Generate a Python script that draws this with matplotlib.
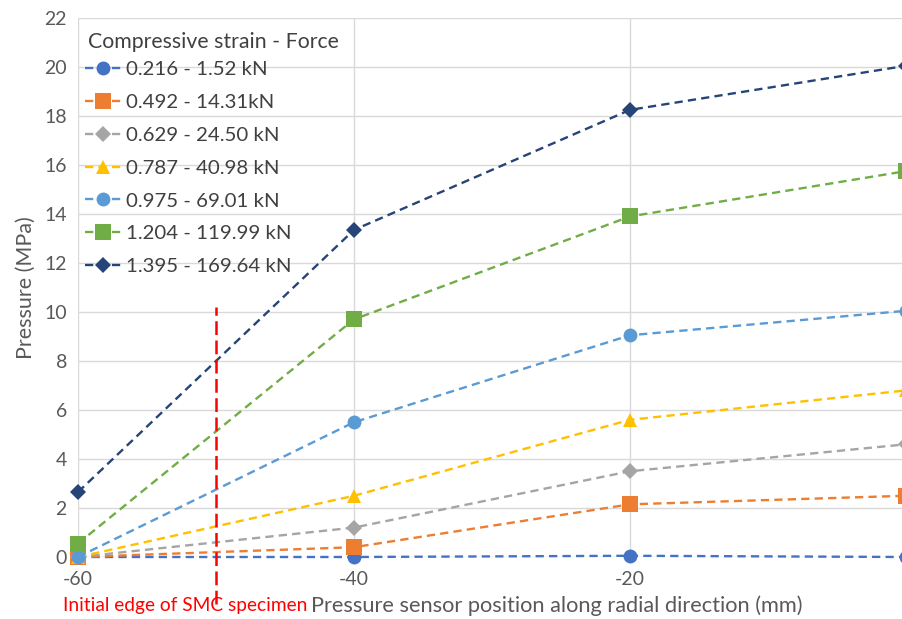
import matplotlib
matplotlib.use("Agg")
import matplotlib.pyplot as plt

plt.rcParams['font.family'] = ['Lato', 'DejaVu Sans']

positions = [-60, -40, -20, 0]
series_labels = ["0.216 - 1.52 kN", "0.492 - 14.31kN", "0.629 - 24.50 kN",
                 "0.787 - 40.98 kN", "0.975 - 69.01 kN", "1.204 - 119.99 kN",
                 "1.395 - 169.64 kN"]
s1 = [0.0, 0.0, 0.05, 0.0]
s2 = [0.0, 0.4, 2.15, 2.5]
s3 = [0.0, 1.2, 3.5, 4.6]
s4 = [0.0, 2.5, 5.6, 6.8]
s5 = [0.0, 5.5, 9.05, 10.05]
s6 = [0.55, 9.7, 13.9, 15.75]
s7 = [2.65, 13.35, 18.25, 20.05]
series = [s1, s2, s3, s4, s5, s6, s7]
edge_x = -50
edge_top = 10.2

colors = ['#4472C4', '#ED7D31', '#A5A5A5', '#FFC000', '#5B9BD5', '#70AD47', '#264478']
markers = ['o', 's', 'D', '^', 'o', 's', 'D']
msizes = [10, 11, 8, 10, 10, 11, 8.5]

fig = plt.figure(figsize=(9.03, 6.19), dpi=100)
ax = fig.add_axes([78/903, 1-557/619, (906-78)/903, (557-18)/619])

for y, c, m, ms, lab in zip(series, colors, markers, msizes, series_labels):
    ax.plot(positions, y, color=c, marker=m, markersize=ms, lw=1.7,
            linestyle=(0, (3.5, 2.2)), label=lab, clip_on=False,
            markeredgewidth=0)

ax.plot([edge_x, edge_x], [-1.9, edge_top], color='#FF0000', lw=1.8,
        linestyle=(0, (5.5, 2.2)), clip_on=False, zorder=5)

ax.set_xlim(-60, 0)
ax.set_ylim(0, 22)
ax.set_xticks([-60, -40, -20, 0])
ax.set_xticklabels(['-60', '-40', '-20', ''])
ax.set_yticks(range(0, 23, 2))
ax.grid(True, color='#D9D9D9', lw=1)
ax.set_axisbelow(True)
for sp in ax.spines.values():
    sp.set_visible(False)
ax.tick_params(length=0, labelsize=14, colors='#595959')
ax.tick_params(axis='x', pad=10)
ax.tick_params(axis='y', pad=8)
ax.set_ylabel('Pressure (MPa)', fontsize=15.5, color='#595959', labelpad=6)

fig.text(63/903, 1-606/619, 'Initial edge of SMC specimen', color='#FF0000',
         fontsize=13.8, va='center', ha='left')
fig.text(311/903, 1-606/619, 'Pressure sensor position along radial direction (mm)',
         color='#595959', fontsize=15.7, va='center', ha='left')

fig.text(88/903, 1-42/619, 'Compressive strain - Force', color='#404040',
         fontsize=15.3, va='center', ha='left')
leg = ax.legend(loc='upper left', bbox_to_anchor=(85/903, 1-61/619),
                bbox_transform=fig.transFigure, frameon=False,
                fontsize=14.7, handlelength=1.75,
                handletextpad=0.25, labelspacing=0.76, labelcolor='#404040',
                borderpad=0, borderaxespad=0)

fig.savefig('out.png', dpi=100)
